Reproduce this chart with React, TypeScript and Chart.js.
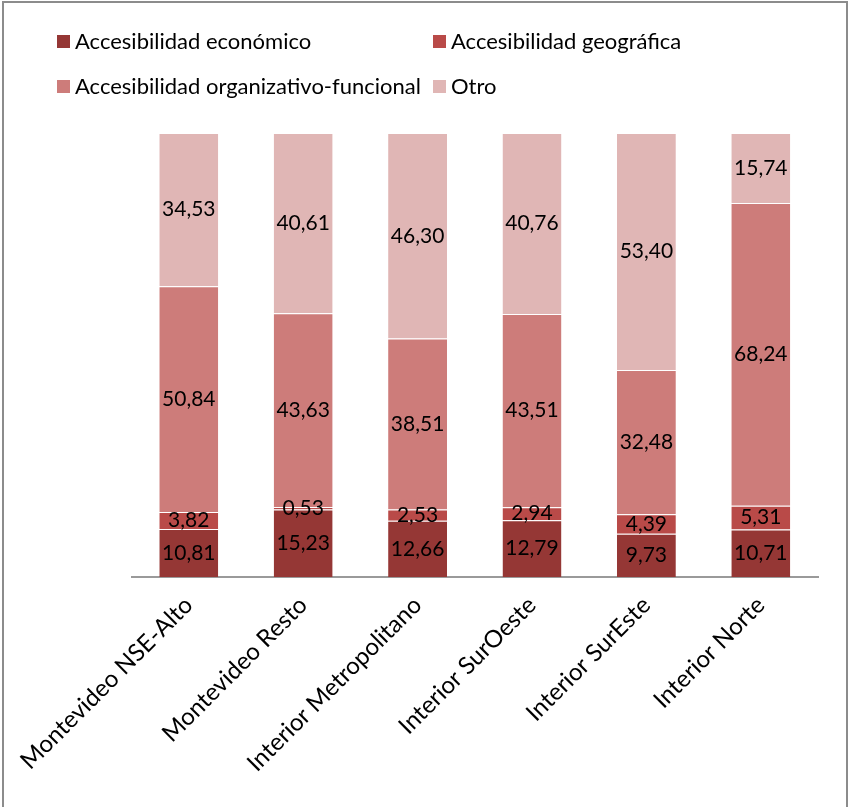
import React, { useEffect, useRef } from "react";
import { Chart, registerables } from "chart.js";

Chart.register(...registerables);

const categories = [
  "Montevideo NSE-Alto",
  "Montevideo Resto",
  "Interior Metropolitano",
  "Interior SurOeste",
  "Interior SurEste",
  "Interior Norte",
];
const economico = [10.81, 15.23, 12.66, 12.79, 9.73, 10.71];
const geografica = [3.82, 0.53, 2.53, 2.94, 4.39, 5.31];
const organizativo = [50.84, 43.63, 38.51, 43.51, 32.48, 68.24];
const otro = [34.53, 40.61, 46.3, 40.76, 53.4, 15.74];
const seriesNames = [
  "Accesibilidad económico",
  "Accesibilidad geográfica",
  "Accesibilidad organizativo-funcional",
  "Otro",
];
const seriesColors = ["#953735", "#B94A48", "#CD7C7A", "#E0B6B5"];

const FONT = "Lato, 'Open Sans', sans-serif";

const valueLabels = {
  id: "valueLabels",
  afterDatasetsDraw(chart: any) {
    const ctx = chart.ctx;
    ctx.save();
    ctx.font = `21px ${FONT}`;
    ctx.fillStyle = "#000";
    ctx.textAlign = "center";
    ctx.textBaseline = "middle";
    chart.data.datasets.forEach((ds: any, di: number) => {
      const meta = chart.getDatasetMeta(di);
      meta.data.forEach((el: any, i: number) => {
        const v = ds.data[i];
        const y = (el.y + el.base) / 2;
        ctx.fillText(v.toFixed(2).replace(".", ","), el.x, y);
      });
    });
    ctx.restore();
  },
};

export default function App() {
  const ref = useRef<HTMLCanvasElement>(null);
  useEffect(() => {
    document.body.style.margin = "0";
    const data = [economico, geografica, organizativo, otro];
    const chart = new Chart(ref.current!, {
      type: "bar",
      data: {
        labels: categories,
        datasets: data.map((d, i) => ({
          label: seriesNames[i],
          data: d,
          backgroundColor: seriesColors[i],
          borderColor: "rgba(255,255,255,0.7)",
          borderWidth: { top: 1, left: 0, right: 0, bottom: 0 },
          borderSkipped: false,
          categoryPercentage: 1,
          barPercentage: 0.515,
        })),
      },
      options: {
        animation: false,
        responsive: false,
        devicePixelRatio: 1,
        layout: { padding: { left: 130, right: 30, top: 133, bottom: 0 } },
        plugins: { legend: { display: false }, tooltip: { enabled: false } },
        scales: {
          x: {
            stacked: true,
            grid: { display: false, drawTicks: false },
            border: { display: true, color: "#9a9a9a", width: 2 },
            ticks: {
              autoSkip: false,
              maxRotation: 45,
              minRotation: 45,
              color: "#000",
              padding: 14,
              font: { family: FONT, size: 24 },
            },
            afterFit: (s: any) => {
              s.height = 230;
            },
          },
          y: { stacked: true, display: false, min: 0, max: 100 },
        },
      },
      plugins: [valueLabels],
    });
    return () => chart.destroy();
  }, []);

  const legendItem = (i: number, left: number, top: number) => (
    <div
      key={i}
      style={{
        position: "absolute",
        left,
        top,
        display: "flex",
        alignItems: "center",
        fontFamily: FONT,
        fontSize: 22,
        color: "#000",
        whiteSpace: "nowrap",
        lineHeight: "24px",
      }}
    >
      <span
        style={{
          display: "inline-block",
          width: 13,
          height: 13,
          background: seriesColors[i],
          marginRight: 5,
        }}
      />
      {seriesNames[i]}
    </div>
  );

  return (
    <div style={{ position: "absolute", left: 0, top: 0, width: 848, height: 807, background: "#fff" }}>
      <canvas ref={ref} width={848} height={807} style={{ position: "absolute", left: 0, top: 0 }} />
      <div
        style={{
          position: "absolute",
          left: 2,
          top: 1,
          width: 842,
          height: 804,
          borderLeft: "2px solid #8c8c8c",
          borderTop: "2px solid #8c8c8c",
          borderRight: "2px solid #8c8c8c",
          borderBottom: "1px solid #d0d0d0",
          pointerEvents: "none",
        }}
      />
      {legendItem(0, 57, 29)}
      {legendItem(1, 433, 29)}
      {legendItem(2, 57, 74)}
      {legendItem(3, 433, 74)}
    </div>
  );
}
